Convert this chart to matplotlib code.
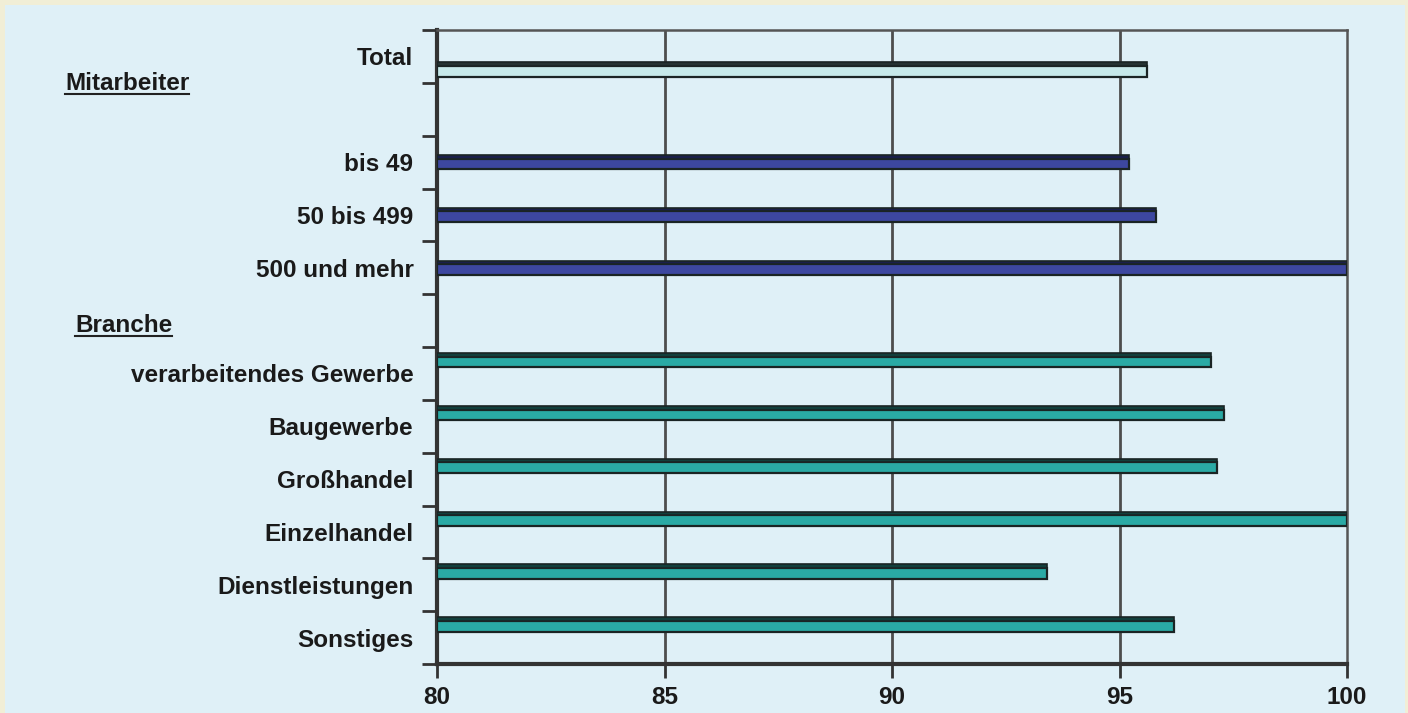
import numpy as np
import matplotlib
matplotlib.use("Agg")
import matplotlib.pyplot as plt
from matplotlib.patches import Rectangle
from matplotlib.lines import Line2D

# categories top to bottom, "" = empty row
categories = ["Total", "", "bis 49", "50 bis 499", "500 und mehr", "",
              "verarbeitendes Gewerbe", "Baugewerbe", "Großhandel",
              "Einzelhandel", "Dienstleistungen", "Sonstiges"]
total_vals = [95.6, None, None, None, None, None, None, None, None, None, None, None]
mitarbeiter_vals = [None, None, 95.2, 95.8, 100.0, None, None, None, None, None, None, None]
branche_vals = [None, None, None, None, None, None, 97.0, 97.3, 97.15, 100.0, 93.4, 96.2]
x_ticks = [80, 85, 90, 95, 100]
section_titles = ["Mitarbeiter", "Branche"]

W, H = 1408, 713
FS = 17.5
fig = plt.figure(figsize=(W / 100, H / 100), dpi=100, facecolor="#f1eed6")
fig.patches.append(Rectangle((5 / W, 0), 1400 / W, 1 - 5 / H, transform=fig.transFigure,
                             facecolor="#dff0f7", edgecolor="none", zorder=-5))

ax = fig.add_axes([437 / W, 1 - 664 / H, 910 / W, 634 / H])
ax.patch.set_visible(False)

n = len(categories)
y = np.arange(n)
font = "Liberation Sans"


def draw_series(vals, offset, face, top):
    for i, v in enumerate(vals):
        if v is None:
            continue
        c = i + offset
        # front face plus darker top strip (pseudo 3D look)
        ax.barh(c + 0.035, v - 80, left=80, height=0.2, color=face,
                edgecolor="#1a2424", linewidth=1.6, zorder=3)
        ax.barh(c - 0.1, v - 80, left=80, height=0.07, color=top,
                edgecolor="#1a2424", linewidth=1.2, zorder=3)


draw_series(branche_vals, -0.25, "#2aaaa5", "#123f3c")
draw_series(mitarbeiter_vals, 0.0, "#3d47a0", "#1a1f4a")
draw_series(total_vals, 0.25, "#c6e9ea", "#253232")

ax.set_xlim(80, 100)
ax.set_ylim(n - 0.5, -0.5)

# ticks at row boundaries, labels at row centres
ax.set_yticks(np.arange(n + 1) - 0.5)
ax.set_yticklabels([])
ax.set_yticks(y, minor=True)
ax.set_yticklabels(categories, minor=True, fontsize=FS, fontweight="bold", family=font,
                   color="#1a1a1a")
ax.tick_params(axis="y", which="major", length=11, width=2, color="#333333", direction="out")
ax.tick_params(axis="y", which="minor", length=0, pad=17)

ax.set_xticks(x_ticks)
ax.set_xticklabels([str(t) for t in x_ticks], fontsize=FS, fontweight="bold", family=font,
                   color="#1a1a1a")
ax.tick_params(axis="x", length=10, width=2, color="#333333", direction="out", pad=6)

for t in x_ticks[1:-1]:
    ax.axvline(t, color="#4d4d4d", linewidth=2, zorder=1)

for side in ["left", "bottom"]:
    ax.spines[side].set_linewidth(3)
    ax.spines[side].set_color("#333333")
for side in ["top", "right"]:
    ax.spines[side].set_linewidth(1.8)
    ax.spines[side].set_color("#555555")

# underlined section titles
titles = [
    fig.text(65 / W, 1 - 83 / H, section_titles[0], fontsize=FS, fontweight="bold",
             family=font, va="center", ha="left", color="#1a1a1a"),
    fig.text(75 / W, 1 - 325 / H, section_titles[1], fontsize=FS, fontweight="bold",
             family=font, va="center", ha="left", color="#1a1a1a"),
]
fig.canvas.draw()
renderer = fig.canvas.get_renderer()
for t in titles:
    bb = t.get_window_extent(renderer)
    yl = (bb.y0 + 1) / H
    fig.lines.append(Line2D([bb.x0 / W, bb.x1 / W], [yl, yl], transform=fig.transFigure,
                            color="#222222", linewidth=1.5))

fig.savefig("out.png", dpi=100, facecolor=fig.get_facecolor())
